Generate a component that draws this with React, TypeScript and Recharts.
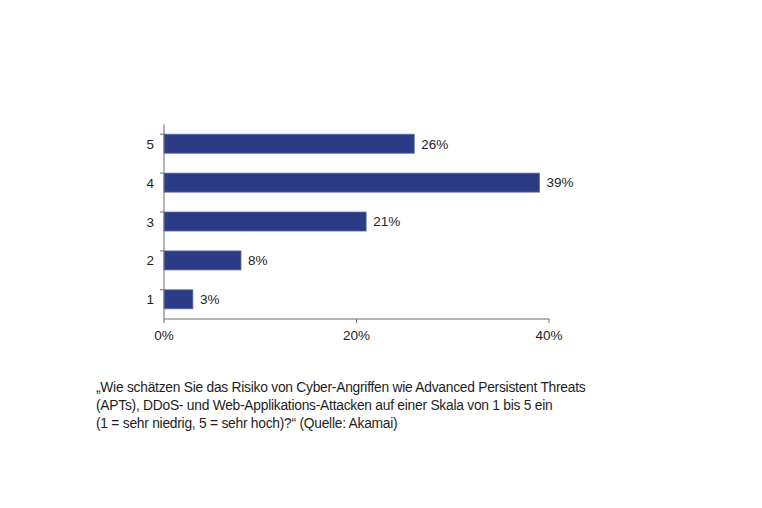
import React from 'react';
import { BarChart, Bar, XAxis, YAxis, LabelList } from 'recharts';

const categories = ['5', '4', '3', '2', '1'];
const values = [26, 39, 21, 8, 3];
const xTicks = [0, 20, 40];
const captionLines = [
  '„Wie schätzen Sie das Risiko von Cyber-Angriffen wie Advanced Persistent Threats',
  '(APTs), DDoS- und Web-Applikations-Attacken auf einer Skala von 1 bis 5 ein',
  '(1 = sehr niedrig, 5 = sehr hoch)?“ (Quelle: Akamai)',
];

const data = categories.map((c, i) => ({ cat: c, value: values[i] }));

const FONT = 'Liberation Sans, Arial, Helvetica, sans-serif';
const AXIS = '#6b6b6b';
const TEXT = '#1e1e1e';
const BAR = '#2c3b86';

const BarShape = (props: any) => {
  const { x, y, width, height, background } = props;
  const bgY = background ? background.y : y;
  return (
    <g>
      <line x1={x - 4} x2={x} y1={bgY} y2={bgY} stroke={AXIS} strokeWidth={1} />
      <rect x={x} y={y} width={width} height={height} fill={BAR} stroke="#5d6cab" strokeWidth={0.8} />
    </g>
  );
};

export default function App() {
  return (
    <div style={{ position: 'absolute', left: 0, top: 0, width: 762, height: 508, background: '#fff', fontFamily: FONT }}>
      <BarChart
        width={762}
        height={508}
        data={data}
        layout="vertical"
        margin={{ top: 124.5, right: 213, bottom: 159, left: 134 }}
        barCategoryGap="25%"
      >
        <XAxis
          type="number"
          domain={[0, 40]}
          ticks={xTicks}
          tickFormatter={(v: number) => `${v}%`}
          stroke={AXIS}
          tickSize={4}
          tickMargin={7}
          height={30}
          tick={{ fill: TEXT, fontSize: 13.5, fontFamily: FONT }}
        />
        <YAxis
          type="category"
          dataKey="cat"
          width={30}
          stroke={AXIS}
          tickLine={false}
          tickSize={8}
          tickMargin={2}
          tick={{ fill: TEXT, fontSize: 13.5, fontFamily: FONT }}
        />
        <Bar dataKey="value" isAnimationActive={false} shape={<BarShape />}>
          <LabelList
            dataKey="value"
            position="right"
            offset={7}
            formatter={(v: any) => `${v}%`}
            style={{ fill: TEXT, fontSize: 13.5, fontFamily: FONT }}
          />
        </Bar>
      </BarChart>
      <div
        style={{
          position: 'absolute',
          left: 96,
          top: 378.6,
          fontSize: 13.8,
          letterSpacing: '-0.25px',
          lineHeight: '18px',
          color: TEXT,
          whiteSpace: 'nowrap',
        }}
      >
        {captionLines.map((l, i) => (
          <div key={i}>{l}</div>
        ))}
      </div>
    </div>
  );
}
